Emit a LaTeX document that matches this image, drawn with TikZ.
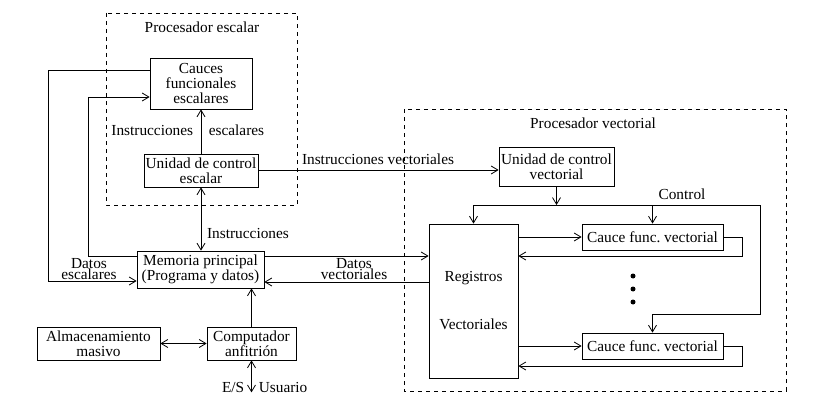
\documentclass[tikz,border=0pt]{standalone}
\usepackage{fontspec}
\setmainfont{Liberation Serif}
\usetikzlibrary{arrows.meta}
\begin{document}
\begin{tikzpicture}[x=0.75pt,y=-0.75pt,>={Straight Barb[length=5pt,width=6pt]},line width=0.6pt,
  font=\fontsize{11.5}{11.5}\selectfont,
  caja/.style 2 args={draw, minimum width=#1*0.75pt, minimum height=#2*0.75pt, inner sep=1pt, align=center}]
\useasboundingbox (0,0) rectangle (823,410);
% Procesador escalar
\draw[dashed] (106,13) rectangle (297,205);
\node (tesc) at (202,27) {Procesador escalar};
\node[caja={102}{51}] (cfe) at (201,83.5) {Cauces\\funcionales\\escalares};
\node[caja={114}{33}] (uce) at (201,170.5) {Unidad de control\\escalar};
\node[caja={127}{37}] (mem) at (200.5,269.5) {Memoria principal\\(Programa y datos)};
\node[caja={123}{33}] (alm) at (98.5,343.5) {Almacenamiento\\masivo};
\node[caja={89}{33}] (comp) at (251.5,343.5) {Computador\\anfitri\'on};
% Procesador vectorial
\draw[dashed] (404,109) rectangle (786,391);
\node (tvec) at (593,123) {Procesador vectorial};
\node[caja={115}{39}] (ucv) at (556.5,166.5) {Unidad de control\\vectorial};
\node[caja={89}{154}] (reg) at (473.5,301) {Registros\\[24.5pt]Vectoriales};
\node[caja={141}{26}] (cv1) at (652.5,237) {Cauce func.\ vectorial};
\node[caja={141}{26}] (cv2) at (652.5,346) {Cauce func.\ vectorial};
\foreach \y in {276,289,302} \fill (633,\y) circle (2.5);
% conexiones escalares
\draw[->] (uce) -- (cfe);
\node[left] (lie) at (198,130) {Instrucciones};
\node[right] (lee) at (204,130) {escalares};
\draw[<->] (uce.south) -- (uce.south |- mem.north);
\node (lins) at (248,233) {Instrucciones};
\draw[->] (cfe.west |- 0,70) -- (48,70) |- (mem.west |- 0,281);
\draw[->] (mem.west |- 0,256) -| (88,97) -- (cfe.west |- 0,97);
\node[align=center] (lde) at (89,269) {Datos\\[-3pt]escalares};
\draw[->] (comp.north) -- (comp.north |- mem.south);
\draw[<->] (alm) -- (comp);
\draw[<->] (comp.south) -- ++(0,32);
\node[left] (les) at (249,387) {E/S};
\node[right] (lus) at (254,387) {Usuario};
% conexiones vectoriales
\draw[->] (uce.east |- 0,170) -- (ucv.west |- 0,170);
\node (liv) at (378,159) {Instrucciones vectoriales};
\draw[->] (mem.east |- 0,256) -- (reg.west |- 0,256);
\draw[->] (reg.west |- 0,282) -- (mem.east |- 0,282);
\node[align=center] (ldv) at (354,269) {Datos\\[-3pt]vectoriales};
% control
\draw[->] (ucv.south) -- (ucv.south |- 0,205);
\draw[->] (760,205) -- (reg.north |- 0,205) -- (reg.north);
\draw[->] (cv1.north |- 0,205) -- (cv1.north);
\draw[->] (760,205) -- (760,314) -| (cv2.north);
\node (lctl) at (682,194) {Control};
% cauces vectoriales
\draw[->] (reg.east |- cv1) -- (cv1.west);
\draw[->] (cv1.east) -- ++(19,0) |- (reg.east |- 0,256);
\draw[->] (reg.east |- cv2) -- (cv2.west);
\draw[->] (cv2.east) -- ++(19,0) |- (reg.east |- 0,366);
\end{tikzpicture}
\end{document}
